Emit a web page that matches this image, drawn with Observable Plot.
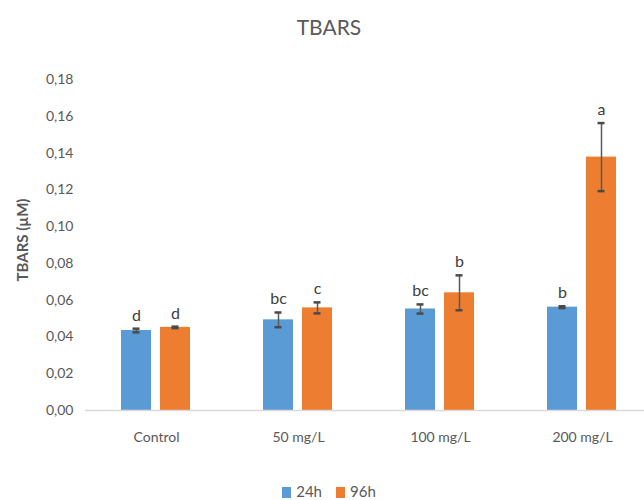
<!DOCTYPE html>
<html>
<head>
<meta charset="utf-8">
<script src="https://cdn.jsdelivr.net/npm/d3@7"></script>
<script src="https://cdn.jsdelivr.net/npm/@observablehq/plot@0.6"></script>
<style>
  html, body { margin: 0; padding: 0; background: #fff; }
  body { width: 644px; height: 500px; overflow: hidden; position: relative; font-family: Lato, "Open Sans", sans-serif; }
  #title { height: 50px; box-sizing: border-box; padding-top: 15px; text-align: center; font-size: 21px; color: #595959; line-height: 24px; padding-left: 14px; }
  #ytitle { position: absolute; left: 22px; top: 240px; transform: translate(-50%, -50%) rotate(-90deg); white-space: nowrap; font-size: 15px; font-weight: bold; color: #595959; }
  #legend { display: flex; justify-content: center; align-items: center; gap: 14px; margin-top: 33px; font-size: 15px; line-height: 17px; color: #595959; padding-left: 14px; }
  #legend span.sw { display: inline-block; width: 9px; height: 11px; margin-right: 5px; vertical-align: -1px; }
</style>
</head>
<body>
<div id="title">TBARS</div>
<div id="ytitle">TBARS (µM)</div>
<div id="chart"></div>
<div id="legend"></div>
<script>
// Treatment groups and the two exposure times
const doses = ["Control", "50 mg/L", "100 mg/L", "200 mg/L"];
const times = ["24h", "96h"];
const timeColors = ["#5B9BD5", "#ED7D31"];

// Mean TBARS (µM) and standard deviation per group
const mean24 = [0.0435, 0.0493, 0.0552, 0.0562];
const sd24   = [0.0010, 0.0040, 0.0025, 0.0005];
const mean96 = [0.0452, 0.0558, 0.0640, 0.1378];
const sd96   = [0.0004, 0.0030, 0.0095, 0.0185];

// Significance letters
const letters24 = ["d", "bc", "bc", "b"];
const letters96 = ["d", "c", "b", "a"];

// Y axis ticks
const yTicks = [0, 0.02, 0.04, 0.06, 0.08, 0.10, 0.12, 0.14, 0.16, 0.18];

const rows = [];
doses.forEach((dose, i) => {
  rows.push({dose, time: "24h", mean: mean24[i], sd: sd24[i], letter: letters24[i]});
  rows.push({dose, time: "96h", mean: mean96[i], sd: sd96[i], letter: letters96[i]});
});

const comma = d => d.toFixed(2).replace(".", ",");

const chart = Plot.plot({
  width: 644,
  height: 400,
  marginLeft: 83,
  marginRight: -10,
  marginTop: 29,
  marginBottom: 40,
  style: {fontFamily: "Lato, 'Open Sans', sans-serif", color: "#595959"},
  fx: {domain: doses, padding: 0, label: null},
  x: {domain: times, paddingInner: 0.225, paddingOuter: 0.896, axis: null},
  y: {domain: [0, 0.18], label: null, axis: null},
  color: {domain: times, range: timeColors},
  marks: [
    Plot.axisY({ticks: yTicks, tickFormat: comma, tickSize: 0, tickPadding: 12, fontSize: 14, label: null, fill: "#595959"}),
    Plot.axisFx({anchor: "bottom", tickSize: 0, tickPadding: 22, fontSize: 14, label: null, fill: "#595959"}),
    Plot.barY(rows, {fx: "dose", x: "time", y: "mean", fill: "time"}),
    Plot.ruleY([0], {stroke: "#d9d9d9", strokeWidth: 1.5}),
    Plot.ruleX(rows, {fx: "dose", x: "time", y1: d => d.mean - d.sd, y2: d => d.mean + d.sd, stroke: "#595959", strokeWidth: 1.5}),
    Plot.tickY(rows, {fx: "dose", x: "time", y: d => d.mean + d.sd, stroke: "#4a4a4a", strokeWidth: 2.5, insetLeft: 11.5, insetRight: 11.5}),
    Plot.tickY(rows, {fx: "dose", x: "time", y: d => d.mean - d.sd, stroke: "#4a4a4a", strokeWidth: 2.5, insetLeft: 11.5, insetRight: 11.5}),
    Plot.text(rows, {fx: "dose", x: "time", y: d => d.mean + d.sd, text: "letter", lineAnchor: "bottom", dy: -8, fontSize: 16, fill: "#404040"})
  ]
});
document.getElementById("chart").appendChild(chart);

const legend = document.getElementById("legend");
times.forEach((t, i) => {
  const item = document.createElement("div");
  item.innerHTML = `<span class="sw" style="background:${timeColors[i]}"></span>${t}`;
  legend.appendChild(item);
});
</script>
</body>
</html>
